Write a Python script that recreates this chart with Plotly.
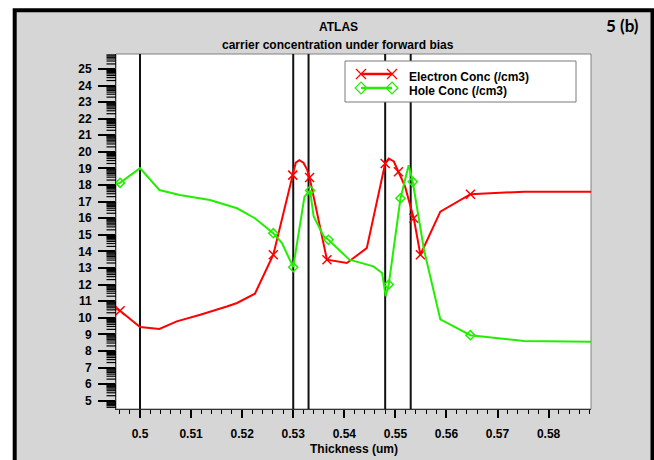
import math
import plotly.graph_objects as go

# ---------------- data ----------------
electron_x = [0.4953, 0.4961, 0.5000, 0.5038, 0.5072, 0.5118, 0.5170, 0.5190, 0.5225,
              0.5261, 0.5299, 0.5305, 0.5312, 0.5320, 0.5327, 0.5332, 0.5366, 0.5405,
              0.5444, 0.5480, 0.5487, 0.5497, 0.5506, 0.5519, 0.5536, 0.5549, 0.5588,
              0.5647, 0.5752, 0.5883]
electron_y = [10.55, 10.42, 9.44, 9.32, 9.78, 10.18, 10.68, 10.89, 11.45,
              13.8, 18.6, 19.35, 19.5, 19.35, 18.95, 18.45, 13.5, 13.3,
              14.2, 19.3, 19.6, 19.42, 18.8, 17.9, 16.0, 13.8, 16.4,
              17.45, 17.6, 17.6]
electron_marked = [1, 9, 10, 15, 16, 19, 22, 24, 25, 27]

hole_x = [0.4953, 0.4961, 0.5000, 0.5038, 0.5078, 0.5137, 0.5190, 0.5225, 0.5261,
          0.5278, 0.5300, 0.5322, 0.5333, 0.5340, 0.5360, 0.5369, 0.5410, 0.5457,
          0.5474, 0.5481, 0.5487, 0.5510, 0.5526, 0.5534, 0.5556, 0.5578, 0.5588,
          0.5647, 0.5752, 0.5883]
hole_y = [18.05, 18.13, 19.02, 17.7, 17.4, 17.1, 16.6, 16.0, 15.1,
          14.5, 13.05, 17.3, 17.67, 16.1, 14.9, 14.7, 13.5, 13.1,
          12.7, 11.3, 12.0, 17.2, 19.2, 18.2, 14.1, 11.1, 9.9,
          8.95, 8.6, 8.55]
hole_marked = [1, 8, 10, 12, 15, 20, 21, 23, 27]

interfaces = [0.500, 0.530, 0.533, 0.548, 0.553]

x_ticks = [0.50, 0.51, 0.52, 0.53, 0.54, 0.55, 0.56, 0.57, 0.58]
x_tick_labels = ["0.5", "0.51", "0.52", "0.53", "0.54", "0.55", "0.56", "0.57", "0.58"]
y_ticks = list(range(5, 26))
y_tick_labels = [str(v) for v in y_ticks]

title = "ATLAS"
subtitle = "carrier concentration under forward bias"
panel_label = "5 (b)"
x_title = "Thickness (um)"
series_names = ["Electron Conc (/cm3)", "Hole Conc (/cm3)"]

x_range = [0.4953, 0.5883]
y_range = [4.5, 25.9]

# ---------------- layout geometry ----------------
W, H = 654, 460
L, R, T, B = 116, 591, 54, 409
RED = "#FF0000"
GREEN = "#22EE00"
FONT = "Liberation Sans, Arial, sans-serif"


def px(x):
    return (x - L) / (R - L)


def py(y):
    return (B - y) / (B - T)


fig = go.Figure()

# data curves
fig.add_trace(go.Scatter(x=electron_x, y=electron_y, mode="lines",
                         line=dict(color=RED, width=2), showlegend=False))
fig.add_trace(go.Scatter(x=[electron_x[i] for i in electron_marked],
                         y=[electron_y[i] for i in electron_marked], mode="markers",
                         marker=dict(symbol="x-thin-open", size=9, color=RED,
                                     line=dict(color=RED, width=1.5)), showlegend=False))
fig.add_trace(go.Scatter(x=hole_x, y=hole_y, mode="lines",
                         line=dict(color=GREEN, width=2), showlegend=False))
fig.add_trace(go.Scatter(x=[hole_x[i] for i in hole_marked],
                         y=[hole_y[i] for i in hole_marked], mode="markers",
                         marker=dict(symbol="diamond-open", size=7, color=GREEN,
                                     line=dict(color=GREEN, width=1.5)), showlegend=False))

# manual legend (pixel coordinate overlay axes)
leg_rows = [(74, RED, "x-thin-open", 10), (88, GREEN, "diamond-open", 9)]
for (yy, col, sym, sz), name in zip(leg_rows, series_names):
    fig.add_trace(go.Scatter(x=[361, 392], y=[yy, yy], xaxis="x2", yaxis="y2",
                             mode="lines+markers", line=dict(color=col, width=2.5),
                             marker=dict(symbol=sym, size=sz, color=col,
                                         line=dict(color=col, width=1.2)),
                             showlegend=False, hoverinfo="skip"))

shapes = []
# outer grey frame
shapes.append(dict(type="rect", xref="paper", yref="paper",
                   x0=px(14.7), x1=px(652.5), y0=py(480), y1=py(10.3),
                   fillcolor="#D6D6D6", line=dict(color="black", width=4), layer="below"))
# white plot area
shapes.append(dict(type="rect", xref="paper", yref="paper", x0=0, x1=1, y0=0, y1=1,
                   fillcolor="white", line=dict(color="#808080", width=1), layer="below"))
# interface lines
for xv in interfaces:
    shapes.append(dict(type="line", xref="x", yref="paper", x0=xv, x1=xv, y0=0, y1=1,
                       line=dict(color="#111111", width=2), layer="below"))
# legend box (covers the interface lines, stays under the legend samples)
shapes.append(dict(type="rect", xref="paper", yref="paper",
                   x0=px(345), x1=px(576), y0=py(102), y1=py(61),
                   fillcolor="white", line=dict(color="#7a7a7a", width=1), layer="below"))
# logarithmic minor ticks on the y axis
for dec in range(int(math.floor(y_range[0])) - 1, int(math.ceil(y_range[1])) + 1):
    for k in range(2, 10):
        yv = dec + math.log10(k)
        if y_range[0] <= yv <= y_range[1]:
            shapes.append(dict(type="line", xref="paper", yref="y",
                               x0=px(106.5), x1=px(116), y0=yv, y1=yv,
                               line=dict(color="black", width=1.2), layer="above"))

annotations = [
    dict(text="<b>%s</b>" % title, x=px(338), y=py(27), xref="paper", yref="paper",
         showarrow=False, font=dict(family=FONT, size=12, color="black"),
         xanchor="center", yanchor="middle"),
    dict(text="<b>%s</b>" % subtitle, x=px(338), y=py(45), xref="paper", yref="paper",
         showarrow=False, font=dict(family=FONT, size=12, color="black"),
         xanchor="center", yanchor="middle"),
    dict(text="<b>%s</b>" % panel_label, x=px(622), y=py(25), xref="paper", yref="paper",
         showarrow=False, font=dict(family="Lato, Open Sans, sans-serif", size=17, color="black"),
         xanchor="center", yanchor="middle"),
    dict(text="<b>%s</b>" % x_title, x=px(354), y=py(449), xref="paper", yref="paper",
         showarrow=False, font=dict(family=FONT, size=12, color="black"),
         xanchor="center", yanchor="middle"),
]
for (yy, col, sym, sz), name in zip(leg_rows, series_names):
    annotations.append(dict(text="<b>%s</b>" % name, x=px(407), y=py(yy + 2.5),
                            xref="paper", yref="paper", showarrow=False,
                            font=dict(family=FONT, size=12, color="black"),
                            xanchor="left", yanchor="middle"))

fig.update_layout(
    width=W, height=H,
    margin=dict(l=L, r=W - R, t=T, b=H - B, pad=0),
    paper_bgcolor="white", plot_bgcolor="rgba(0,0,0,0)",
    showlegend=False,
    shapes=shapes, annotations=annotations,
    xaxis=dict(range=x_range, tickvals=x_ticks, ticktext=x_tick_labels,
               showgrid=False, zeroline=False, showline=True, linecolor="#333333",
               linewidth=1, ticks="outside", ticklen=8, tickwidth=1.5, tickcolor="black",
               tickfont=dict(family=FONT, size=12, color="black", weight="bold"),
               ticklabelstandoff=6,
               minor=dict(dtick=0.002, tick0=0.5, ticks="outside", ticklen=4,
                          tickwidth=1, tickcolor="black", showgrid=False)),
    yaxis=dict(range=y_range, tickvals=y_ticks, ticktext=y_tick_labels,
               showgrid=False, zeroline=False, showline=True, linecolor="#333333",
               linewidth=1, ticks="outside", ticklen=17, tickwidth=1.5, tickcolor="black",
               tickfont=dict(family=FONT, size=12, color="black", weight="bold"),
               ticklabelstandoff=4),
    xaxis2=dict(overlaying="x", range=[L, R], visible=False),
    yaxis2=dict(overlaying="y", range=[B, T], visible=False),
)

fig.write_html("out.html")
